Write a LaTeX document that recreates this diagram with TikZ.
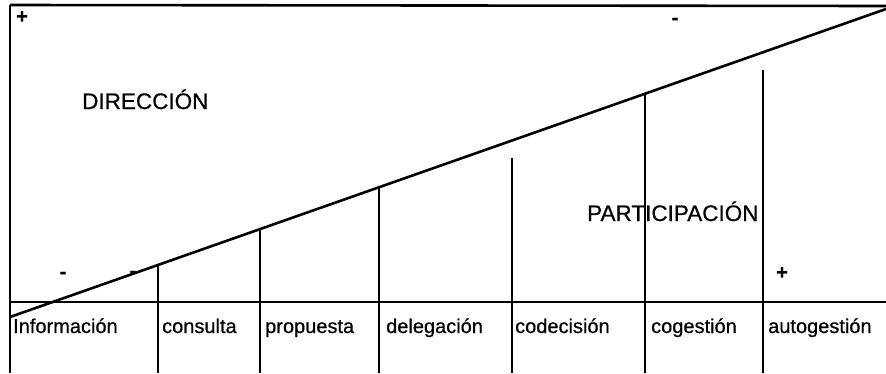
\documentclass[tikz,border=0pt]{standalone}
\usepackage{fontspec}
\setmainfont[FakeBold=0.6]{Liberation Sans}
\begin{document}
\begin{tikzpicture}[x=1pt,y=-1pt,
    cell/.style={anchor=base west,inner sep=0pt,font=\fontsize{20}{24}\selectfont},
    zone/.style={anchor=base west,inner sep=0pt,font=\fontsize{22.5}{27}\selectfont},
    sign/.style={inner sep=0pt,font=\fontsize{20}{24}\selectfont\bfseries}]
  \useasboundingbox (0,0) rectangle (886,373);
  \path
    (10,373) coordinate (bl)
    (10,5) coordinate (tl)
    (886,6) coordinate (tr)
    (10,302) coordinate (ml)
    (886,302) coordinate (mr)
    (10,317) coordinate (d0)
    (886,9) coordinate (d1);
  \begin{scope}[line width=2.6pt]
    \draw (tl) -- (tr);
    \draw (d0) -- (d1);
  \end{scope}
  \begin{scope}[line width=1.6pt]
    \draw (bl) -- (tl);
    \draw (ml) -- (mr);
    \foreach \x/\t in {158/265, 260/229, 379/187, 512/158, 645/94, 763/70}
      \draw (\x,\t) coordinate (t\x) -- (\x,373) coordinate (b\x);
  \end{scope}
  \draw
    (13,333) node[cell] (info){Información}
    (162,333) node[cell] (cons){consulta}
    (265,333) node[cell] (prop){propuesta}
    (386,333) node[cell] (dele){delegación}
    (515,333) node[cell] (code){codecisión}
    (651,333) node[cell] (coge){cogestión}
    (768,333) node[cell] (auto){autogestión};
  \draw
    (82,109) node[zone] (dir){DIRECCIÓN}
    (587,221) node[zone] (part){PARTICIPACIÓN};
  \draw
    (22,17) node[sign] (p1){+}
    (675,21) node[sign] (m1){-}
    (63,275) node[sign] (m2){-}
    (133,274) node[sign] (m3){-}
    (782,273) node[sign] (p2){+};
\end{tikzpicture}
\end{document}
